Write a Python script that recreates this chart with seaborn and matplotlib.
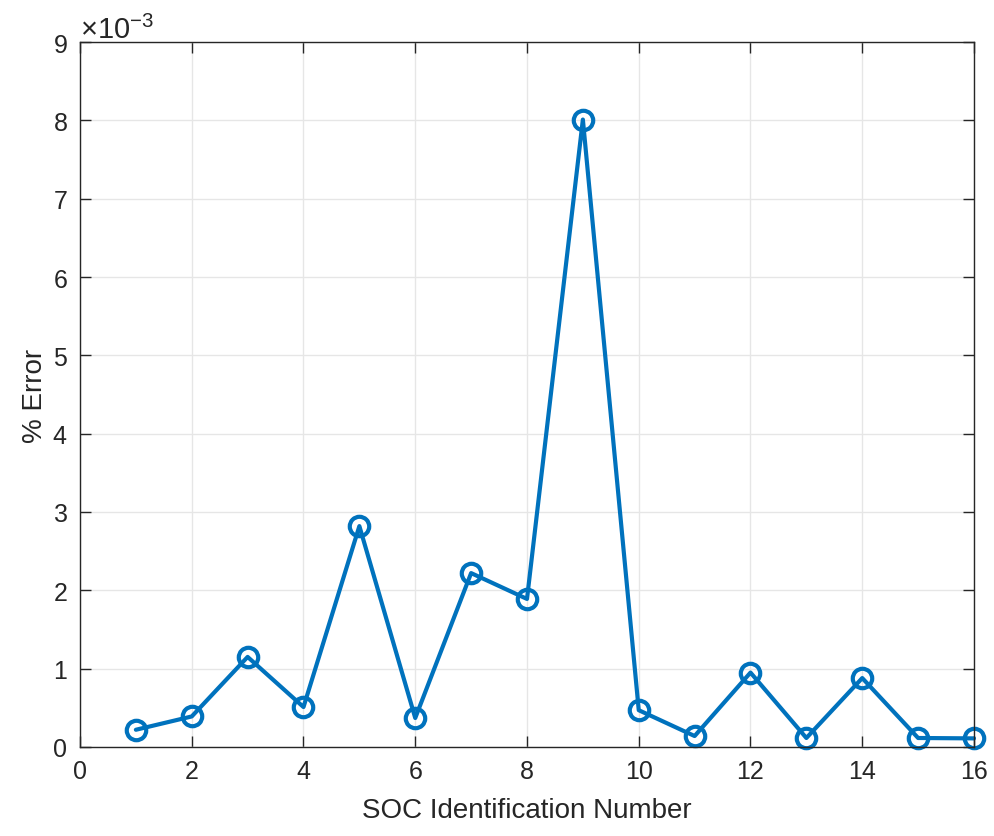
import matplotlib
matplotlib.use("Agg")
import matplotlib.pyplot as plt
import seaborn as sns
import pandas as pd
from matplotlib.ticker import ScalarFormatter

soc_id = list(range(1, 17))
pct_error = [0.22e-3, 0.39e-3, 1.15e-3, 0.51e-3, 2.82e-3, 0.37e-3, 2.22e-3, 1.89e-3,
             8.01e-3, 0.47e-3, 0.14e-3, 0.95e-3, 0.115e-3, 0.88e-3, 0.115e-3, 0.11e-3]

df = pd.DataFrame({"SOC Identification Number": soc_id, "% Error": pct_error})

sns.set_theme(style="ticks")
plt.rcParams['font.family'] = ['Liberation Sans', 'DejaVu Sans']
plt.rcParams['mathtext.fontset'] = 'custom'
plt.rcParams['mathtext.rm'] = 'Liberation Sans'
plt.rcParams['mathtext.it'] = 'Liberation Sans'

fig = plt.figure(figsize=(9.95, 8.37), dpi=100)
ax = fig.add_axes([80/995, 1-748/837, (974-80)/995, (748-43)/837])

sns.lineplot(data=df, x="SOC Identification Number", y="% Error", ax=ax,
             color="#0072BD", linewidth=3, marker="o", markersize=14,
             markerfacecolor="none", markeredgecolor="#0072BD", markeredgewidth=3,
             clip_on=False)

ax.set_xlim(0, 16)
ax.set_ylim(0, 9e-3)
ax.set_xticks(range(0, 17, 2))
ax.set_yticks([i*1e-3 for i in range(10)])
fmt = ScalarFormatter(useMathText=True)
fmt.set_powerlimits((-2, 2))
ax.yaxis.set_major_formatter(fmt)
ax.yaxis.get_offset_text().set_fontsize(21)
ax.yaxis.get_offset_text().set_color("#262626")
ax.grid(True, color="#E6E6E6", linewidth=1)
ax.set_axisbelow(True)
for s in ax.spines.values():
    s.set_color("#262626")
    s.set_linewidth(1)
ax.tick_params(direction="in", length=8, width=1, labelsize=18, colors="#262626",
               top=True, right=True, pad=9)
ax.set_xlabel("SOC Identification Number", fontsize=20, color="#262626", labelpad=10)
ax.set_ylabel("% Error", fontsize=20, color="#262626", labelpad=3)

fig.savefig("out.png", dpi=100)
